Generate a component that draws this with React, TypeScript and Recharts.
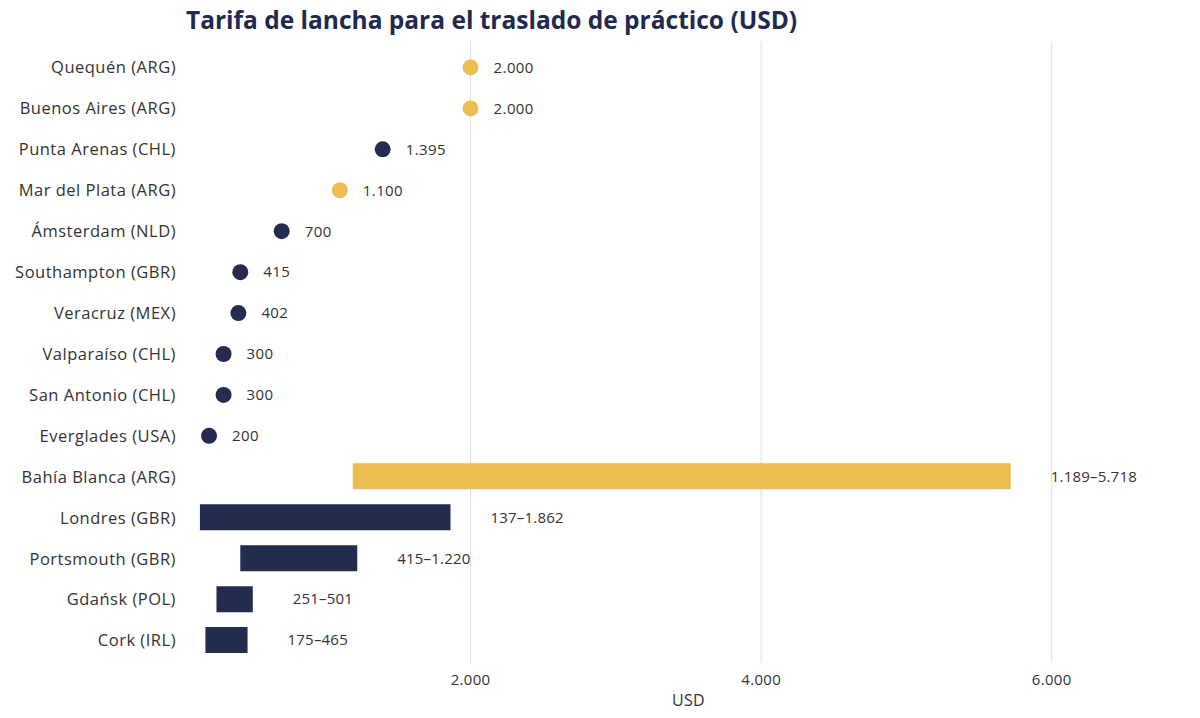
import React from 'react';
import { ComposedChart, Bar, Line, XAxis, YAxis, CartesianGrid, Cell, LabelList } from 'recharts';

const ports = [
  'Quequén (ARG)',
  'Buenos Aires (ARG)',
  'Punta Arenas (CHL)',
  'Mar del Plata (ARG)',
  'Ámsterdam (NLD)',
  'Southampton (GBR)',
  'Veracruz (MEX)',
  'Valparaíso (CHL)',
  'San Antonio (CHL)',
  'Everglades (USA)',
  'Bahía Blanca (ARG)',
  'Londres (GBR)',
  'Portsmouth (GBR)',
  'Gdańsk (POL)',
  'Cork (IRL)',
];
const pointValues: (number | null)[] = [2000, 2000, 1395, 1100, 700, 415, 402, 300, 300, 200, null, null, null, null, null];
const rangeLow: (number | null)[] = [null, null, null, null, null, null, null, null, null, null, 1189, 137, 415, 251, 175];
const rangeHigh: (number | null)[] = [null, null, null, null, null, null, null, null, null, null, 5718, 1862, 1220, 501, 465];
const isArgentina = [true, true, false, true, false, false, false, false, false, false, true, false, false, false, false];
const xTicks = [2000, 4000, 6000];
const X_MAX = 7000;

const GOLD = '#ecbe52';
const NAVY = '#232b4e';
const TEXT = '#333333';
const FONT = '"Open Sans", sans-serif';

const fmt = (v: number) => String(v).replace(/\B(?=(\d{3})+(?!\d))/g, '.');

const rows = ports.map((name, i) => ({
  name,
  point: pointValues[i],
  pointLabel: pointValues[i] != null ? fmt(pointValues[i] as number) : '',
  range: rangeLow[i] != null ? [rangeLow[i], rangeHigh[i]] : null,
  rangeLabel: rangeLow[i] != null ? `${fmt(rangeLow[i] as number)}–${fmt(rangeHigh[i] as number)}` : '',
  arg: isArgentina[i],
}));

const renderDot = (props: any) => {
  const { cx, cy, payload, index } = props;
  if (payload == null || payload.point == null || cx == null || cy == null) {
    return <g key={`d-${index}`} />;
  }
  return <circle key={`d-${index}`} cx={cx} cy={cy} r={8} fill={payload.arg ? GOLD : NAVY} />;
};

const gridCoords = (props: any) => {
  const { offset } = props;
  const left = offset.left;
  const width = offset.width;
  return xTicks.map((t) => left + (t / X_MAX) * width);
};

export default function App() {
  return (
    <div style={{ position: 'absolute', left: 0, top: 0, width: 1200, height: 718, background: '#fff', fontFamily: FONT }}>
      <div
        style={{
          position: 'absolute',
          left: 186,
          top: 4,
          fontSize: 24.5,
          fontWeight: 700,
          color: '#1f2a4e',
          fontFamily: FONT,
          whiteSpace: 'nowrap',
          lineHeight: '32px',
        }}
      >
        Tarifa de lancha para el traslado de práctico (USD)
      </div>
      <ComposedChart
        width={1200}
        height={718}
        data={rows}
        layout="vertical"
        margin={{ top: 41, right: 3, left: 0, bottom: 0 }}
        style={{ fontFamily: FONT }}
      >
        <CartesianGrid horizontal={false} stroke="#dedede" verticalCoordinatesGenerator={gridCoords} />
        <XAxis
          type="number"
          domain={[0, X_MAX]}
          ticks={xTicks}
          tickFormatter={fmt}
          axisLine={false}
          tickLine={false}
          tickSize={0}
          tickMargin={11}
          height={55}
          tick={{ fontSize: 15, fill: TEXT, fontFamily: FONT, letterSpacing: 0.3 }}
          label={{ value: 'USD', position: 'insideBottom', offset: 12, fontSize: 16, fill: TEXT, fontFamily: FONT, letterSpacing: 0.4 }}
        />
        <YAxis
          type="category"
          dataKey="name"
          width={180}
          axisLine={false}
          tickLine={false}
          tickSize={0}
          tickMargin={4}
          interval={0}
          padding={{ top: 6, bottom: 2 }}
          tick={{ fontSize: 16.5, fill: TEXT, fontFamily: FONT, letterSpacing: 0.5 }}
        />
        <Bar dataKey="range" barSize={26} isAnimationActive={false}>
          {rows.map((r, i) => (
            <Cell key={`c-${i}`} fill={r.arg ? GOLD : NAVY} />
          ))}
          <LabelList dataKey="rangeLabel" position="right" offset={40} fontSize={15} fill={TEXT} fontFamily={FONT} letterSpacing={0.2} />
        </Bar>
        <Line
          dataKey="point"
          stroke="none"
          dot={renderDot}
          activeDot={false}
          isAnimationActive={false}
          connectNulls={false}
        >
          <LabelList dataKey="pointLabel" position="right" offset={23} fontSize={15} fill={TEXT} fontFamily={FONT} letterSpacing={0.4} />
        </Line>
      </ComposedChart>
    </div>
  );
}
